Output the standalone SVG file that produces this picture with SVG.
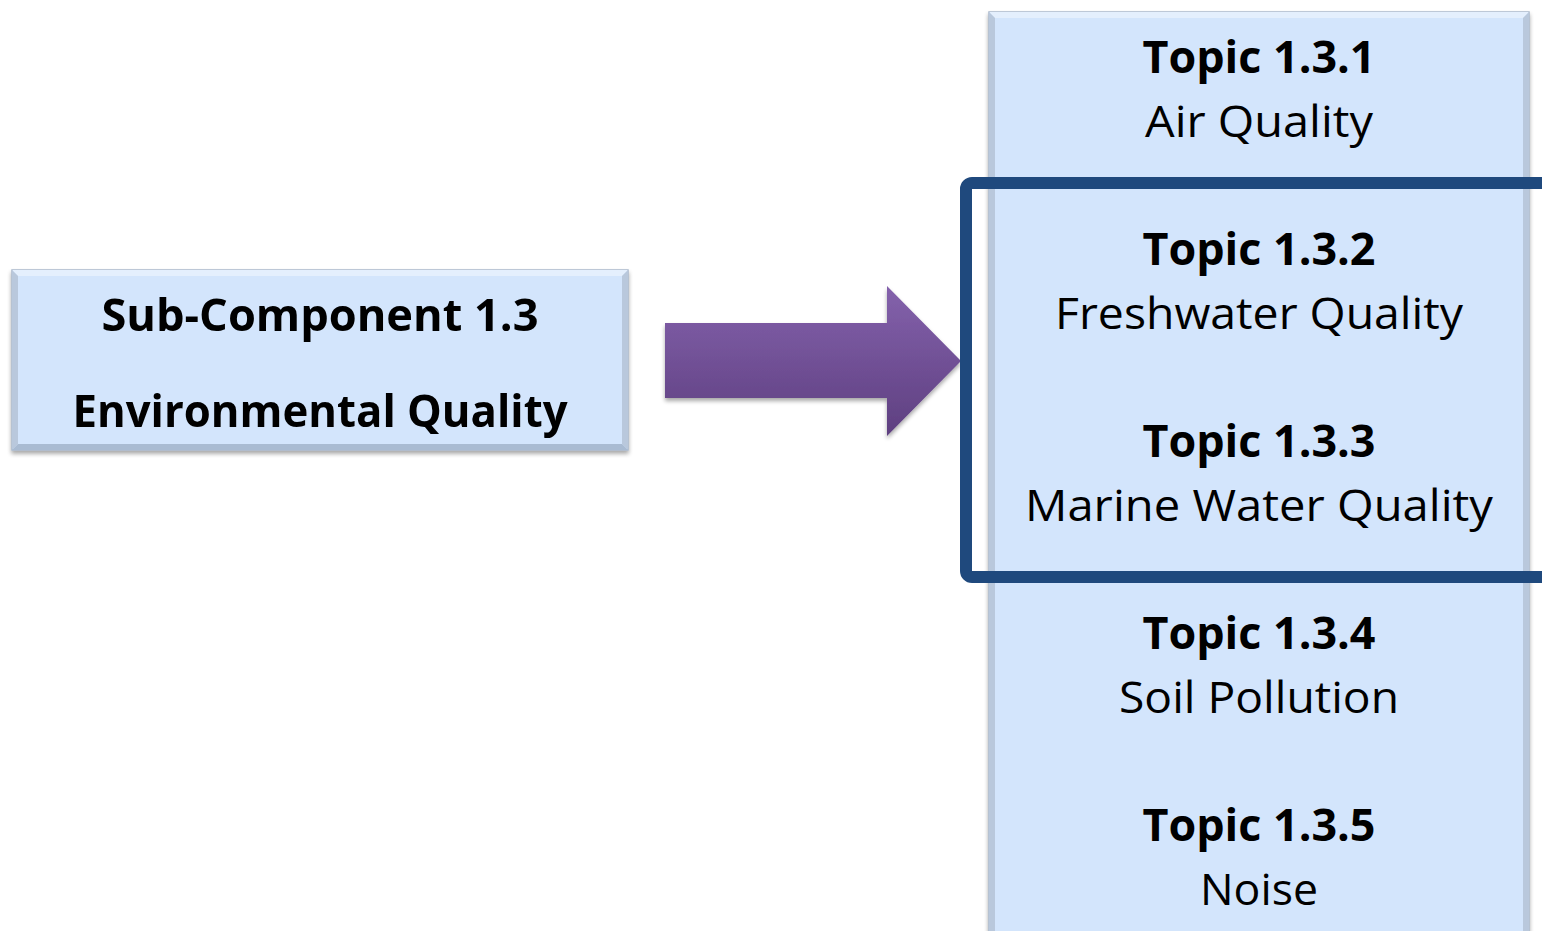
<svg xmlns="http://www.w3.org/2000/svg" width="1542" height="931" viewBox="0 0 1542 931">
<defs>
<linearGradient id="arrowGrad" x1="0" y1="0" x2="0" y2="1">
<stop offset="0" stop-color="#8462ac"/>
<stop offset="1" stop-color="#5e3f80"/>
</linearGradient>
<filter id="shadow" x="-5%" y="-5%" width="110%" height="115%">
<feGaussianBlur in="SourceAlpha" stdDeviation="2"/>
<feOffset dx="0" dy="3" result="b"/>
<feComponentTransfer><feFuncA type="linear" slope="0.35"/></feComponentTransfer>
<feMerge><feMergeNode/><feMergeNode in="SourceGraphic"/></feMerge>
</filter>
<style>
.box{fill:#d3e5fc;stroke:#a9b8cc;stroke-width:1.5}
.bevL{fill:#b9c8dc}
.bevT{fill:#e4effd}
.t{font-family:"Open Sans","Noto Sans",sans-serif;font-size:44px;fill:#000;text-anchor:middle}
.b{font-weight:bold}
</style>
</defs>
<g id="subcomponent" filter="url(#shadow)">
<rect class="box" x="12" y="270" width="616" height="180"/>
<polygon class="bevT" points="12,270 628,270 622,276 18,276"/>
<polygon class="bevL" points="12,270 18,276 18,444 12,450"/>
<polygon class="bevL" points="628,270 622,276 622,444 628,450"/>
<polygon fill="#a9bbd2" points="12,450 18,444 622,444 628,450"/>
<text class="t b" x="320" y="331" textLength="437" lengthAdjust="spacingAndGlyphs">Sub-Component 1.3</text>
<text class="t b" x="320" y="427" textLength="495" lengthAdjust="spacingAndGlyphs">Environmental Quality</text>
</g>
<g id="connectors">
<polygon id="arrow" fill="url(#arrowGrad)" filter="url(#shadow)" points="665,323 887,323 887,286 961,361 887,436 887,398 665,398"/>
</g>
<g id="topics" filter="url(#shadow)">
<rect class="box" x="989" y="12" width="540" height="930"/>
<polygon class="bevT" points="989,12 1529,12 1523,18 995,18"/>
<polygon class="bevL" points="989,12 995,18 995,942 989,942"/>
<polygon class="bevL" points="1529,12 1523,18 1523,942 1529,942"/>
</g>
<g id="topic-1-3-1">
<text class="t b" x="1259" y="73" textLength="233" lengthAdjust="spacingAndGlyphs">Topic 1.3.1</text>
<text class="t" x="1259" y="137" textLength="228" lengthAdjust="spacingAndGlyphs">Air Quality</text>
</g>
<g id="topic-1-3-2">
<text class="t b" x="1259" y="265" textLength="233" lengthAdjust="spacingAndGlyphs">Topic 1.3.2</text>
<text class="t" x="1259" y="329" textLength="408" lengthAdjust="spacingAndGlyphs">Freshwater Quality</text>
</g>
<g id="topic-1-3-3">
<text class="t b" x="1259" y="457" textLength="233" lengthAdjust="spacingAndGlyphs">Topic 1.3.3</text>
<text class="t" x="1259" y="521" textLength="468" lengthAdjust="spacingAndGlyphs">Marine Water Quality</text>
</g>
<g id="topic-1-3-4">
<text class="t b" x="1259" y="649" textLength="233" lengthAdjust="spacingAndGlyphs">Topic 1.3.4</text>
<text class="t" x="1259" y="713" textLength="280" lengthAdjust="spacingAndGlyphs">Soil Pollution</text>
</g>
<g id="topic-1-3-5">
<text class="t b" x="1259" y="841" textLength="233" lengthAdjust="spacingAndGlyphs">Topic 1.3.5</text>
<text class="t" x="1259" y="905" textLength="118" lengthAdjust="spacingAndGlyphs">Noise</text>
</g>
<g id="highlight">
<rect x="966" y="183" width="600" height="394" rx="6" fill="none" stroke="#1f497d" stroke-width="12"/>
</g>
</svg>
